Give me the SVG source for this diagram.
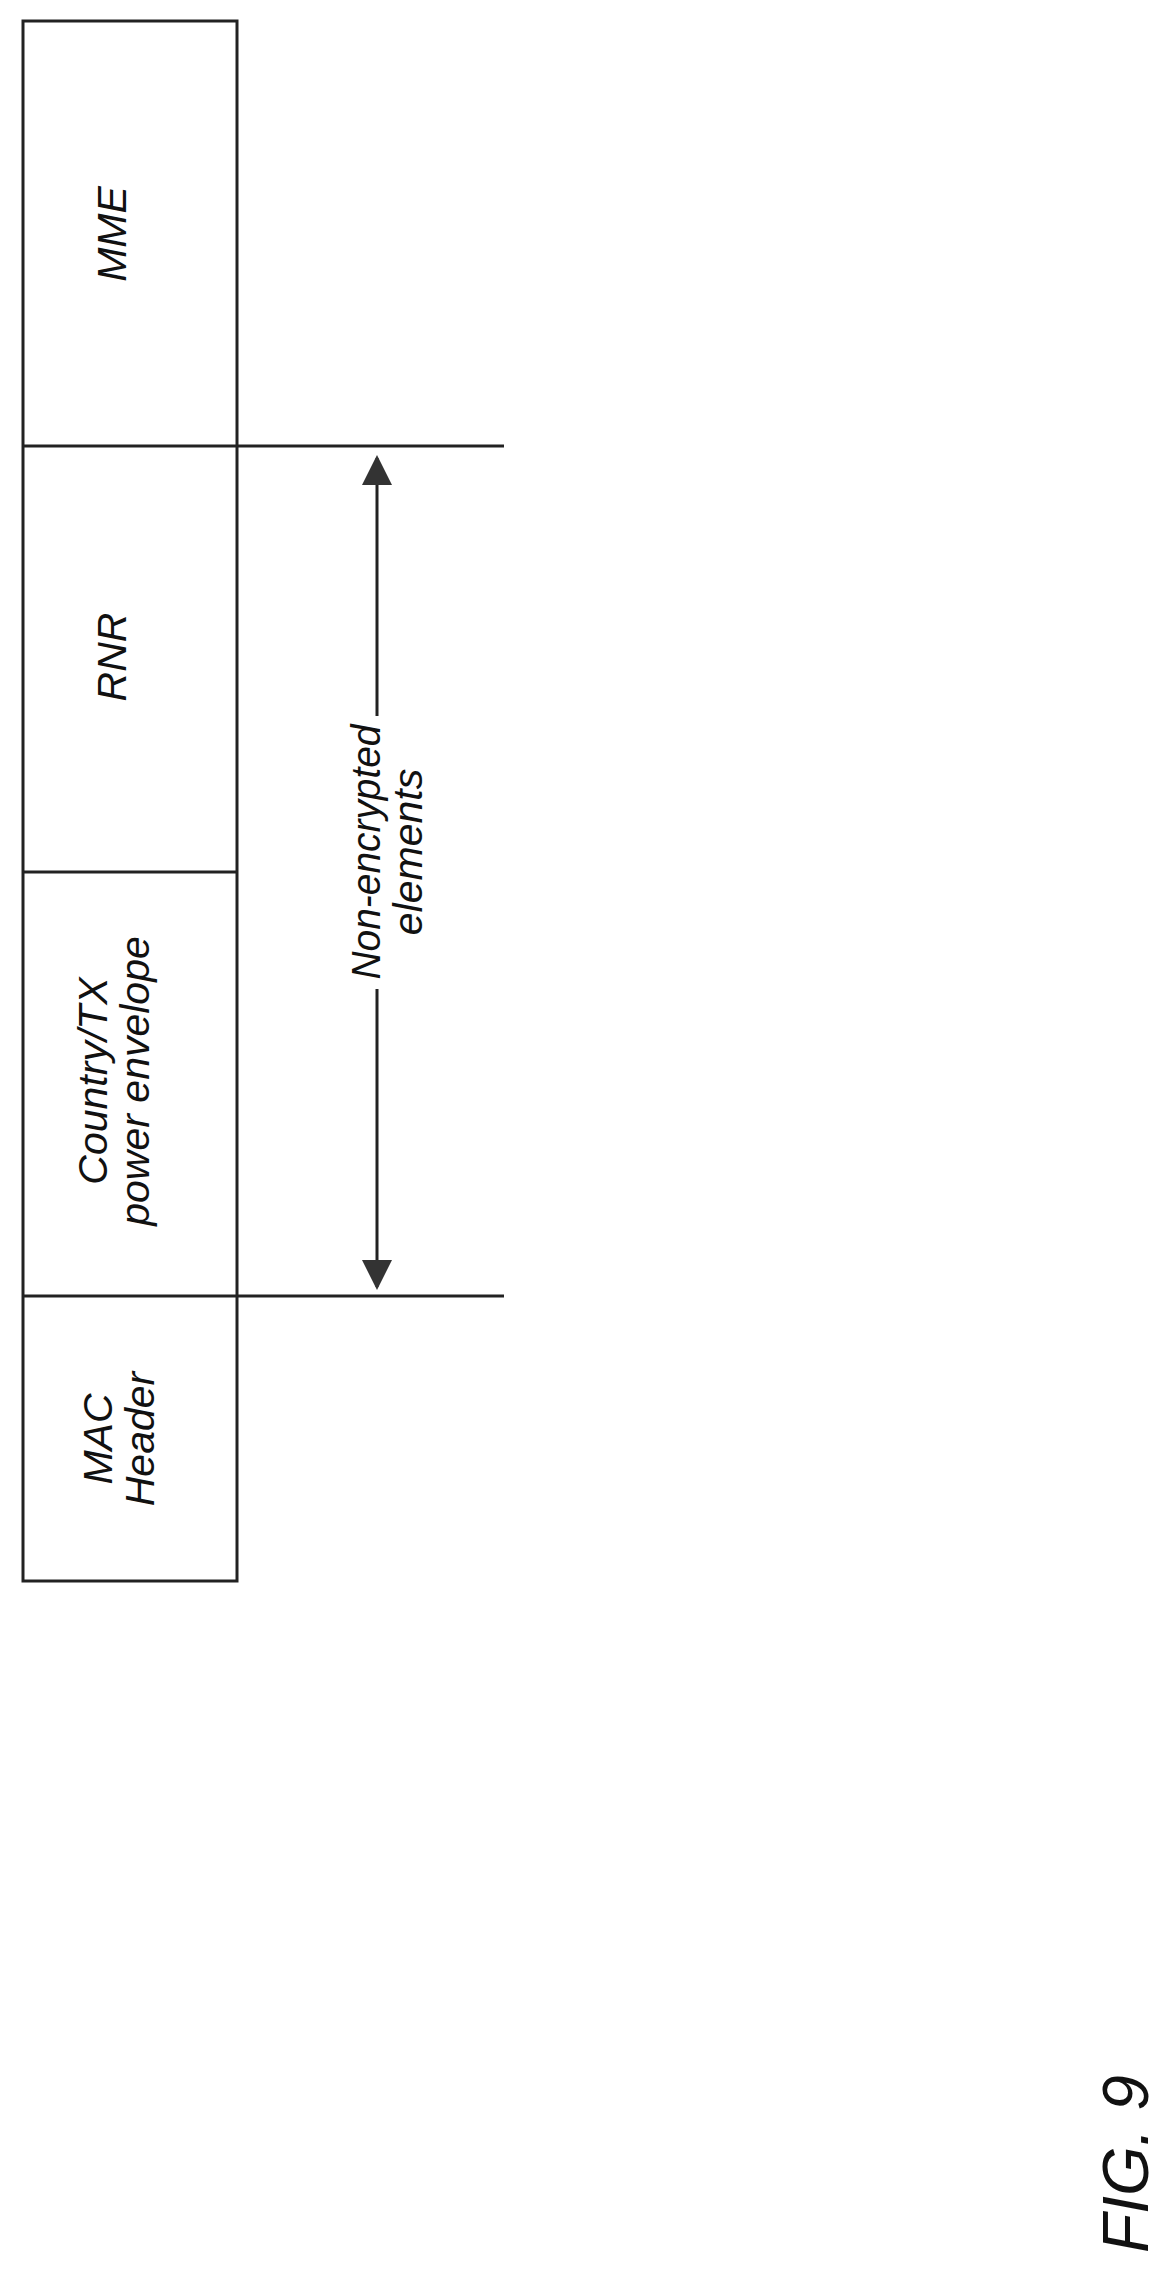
<svg xmlns="http://www.w3.org/2000/svg" width="1169" height="2281" viewBox="0 0 1169 2281">
<style>
.l{stroke:#222;stroke-width:3;fill:none}
.t{font-family:"Liberation Sans",Arial,sans-serif;font-style:italic;font-size:41px;fill:#111;text-anchor:middle}
</style>
<defs>
<marker id="ah" markerWidth="10" markerHeight="10" refX="9" refY="5" orient="auto" markerUnits="strokeWidth"><path d="M0,0 L10,5 L0,10 Z" fill="#333"/></marker>
</defs>
<rect width="1169" height="2281" fill="#fff"/>
<g id="frame"><rect class="l" x="23" y="21" width="214" height="1560"/></g>
<g id="mme"><text class="t" transform="translate(126,234) rotate(-90)">MME</text></g>
<g id="rnr"><text class="t" transform="translate(126,657) rotate(-90)">RNR</text></g>
<g id="country"><text class="t" transform="translate(107,1081) rotate(-90)">Country/TX</text><text class="t" transform="translate(149,1081) rotate(-90)">power envelope</text></g>
<g id="mac"><text class="t" transform="translate(112,1439) rotate(-90)">MAC</text><text class="t" transform="translate(154,1439) rotate(-90)">Header</text></g>
<g id="label"><text class="t" transform="translate(380,852) rotate(-90)" textLength="255" lengthAdjust="spacingAndGlyphs">Non-encrypted</text><text class="t" transform="translate(422,852) rotate(-90)">elements</text></g>
<g id="connectors">
<line class="l" x1="23" y1="446" x2="504" y2="446"/>
<line class="l" x1="23" y1="872" x2="237" y2="872"/>
<line class="l" x1="23" y1="1296" x2="504" y2="1296"/>
<line class="l" x1="377" y1="716" x2="377" y2="458" stroke-width="4" marker-end="url(#ah)"/>
<line class="l" x1="377" y1="989" x2="377" y2="1287" stroke-width="4" marker-end="url(#ah)"/>
</g>
<text transform="translate(1148,2164) rotate(-90)" style="font-family:'Liberation Sans',Arial,sans-serif;font-style:italic;font-size:64px;fill:#111;text-anchor:middle">FIG. 9</text>
</svg>
